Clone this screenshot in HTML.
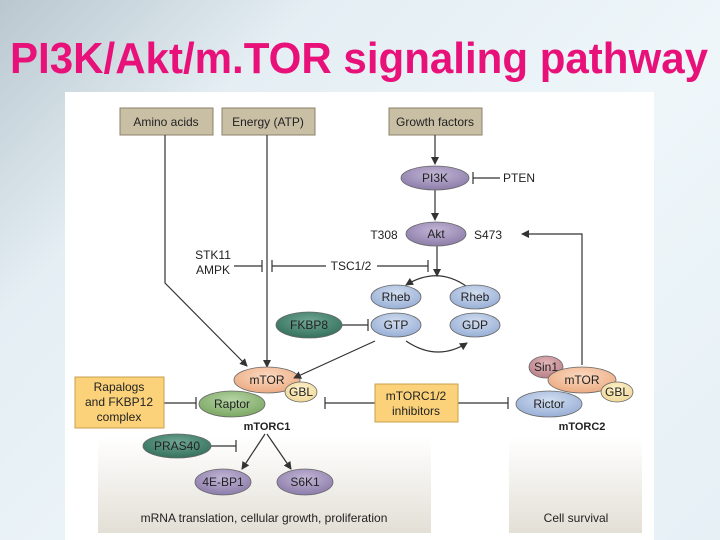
<!DOCTYPE html>
<html><head><meta charset="utf-8"><style>
html,body{margin:0;padding:0;width:720px;height:540px;overflow:hidden}
body{background:linear-gradient(135deg,#b9c7cf 0%,#e4eef3 25%,#eef6fa 60%,#e6f0f5 100%)}
svg{position:absolute;left:0;top:0}
text{font-family:"Liberation Sans",sans-serif}
</style></head><body>
<svg width="720" height="540" viewBox="0 0 720 540" xmlns="http://www.w3.org/2000/svg">
<defs>
<marker id="ah" markerWidth="8" markerHeight="8" refX="7" refY="4" orient="auto" markerUnits="userSpaceOnUse"><path d="M0,0 L8,4 L0,8 z" fill="#333"/></marker>
<linearGradient id="pan" x1="0" y1="0" x2="0" y2="1"><stop offset="0" stop-color="#fff"/><stop offset="1" stop-color="#e3dfd6"/></linearGradient>
<radialGradient id="pu" cx="0.5" cy="0.35" r="0.7"><stop offset="0" stop-color="#c2b6d6"/><stop offset="1" stop-color="#8878a6"/></radialGradient>
<radialGradient id="bl" cx="0.5" cy="0.35" r="0.7"><stop offset="0" stop-color="#d2def0"/><stop offset="1" stop-color="#93abd4"/></radialGradient>
<radialGradient id="tl" cx="0.5" cy="0.35" r="0.7"><stop offset="0" stop-color="#6fa794"/><stop offset="1" stop-color="#2f6c58"/></radialGradient>
<radialGradient id="or" cx="0.5" cy="0.35" r="0.7"><stop offset="0" stop-color="#fbd9c0"/><stop offset="1" stop-color="#eaa87e"/></radialGradient>
<radialGradient id="gr" cx="0.5" cy="0.35" r="0.7"><stop offset="0" stop-color="#b6d4a4"/><stop offset="1" stop-color="#76a45e"/></radialGradient>
<radialGradient id="ye" cx="0.5" cy="0.35" r="0.7"><stop offset="0" stop-color="#fdf2cc"/><stop offset="1" stop-color="#efd696"/></radialGradient>
<radialGradient id="pk" cx="0.5" cy="0.35" r="0.7"><stop offset="0" stop-color="#e4b8bc"/><stop offset="1" stop-color="#b57a82"/></radialGradient>
</defs>
<text x="10" y="73" font-size="44" font-weight="bold" fill="#e8117a" textLength="698" lengthAdjust="spacingAndGlyphs">PI3K/Akt/m.TOR signaling pathway</text>
<rect x="65" y="92" width="589" height="448" fill="#fff"/>
<rect x="98" y="437" width="333" height="96" fill="url(#pan)"/>
<rect x="509" y="437" width="133" height="96" fill="url(#pan)"/>
<g font-size="12" fill="#222" text-anchor="middle">
<text x="264" y="522">mRNA translation, cellular growth, proliferation</text>
<text x="576" y="522">Cell survival</text>
</g>
<g fill="#c9bfa5" stroke="#8c826a" stroke-width="1">
<rect x="120" y="108" width="93" height="27"/><rect x="222" y="108" width="93" height="27"/><rect x="389" y="108" width="93" height="27"/>
</g>
<g font-size="12" fill="#222" text-anchor="middle">
<text x="166" y="126">Amino acids</text><text x="268" y="126">Energy (ATP)</text><text x="435" y="126">Growth factors</text>
</g>
<g stroke="#333" stroke-width="1.2" fill="none">
<line x1="435" y1="135" x2="435" y2="164" marker-end="url(#ah)"/>
<line x1="435" y1="190" x2="435" y2="220" marker-end="url(#ah)"/>
<line x1="437" y1="246" x2="437" y2="276" marker-end="url(#ah)"/>
<line x1="500" y1="178" x2="473" y2="178"/><line x1="473" y1="172" x2="473" y2="184"/>
<line x1="234" y1="266" x2="262" y2="266"/><line x1="262" y1="260" x2="262" y2="272"/>
<line x1="272" y1="266" x2="326" y2="266"/><line x1="377" y1="266" x2="428" y2="266"/>
<line x1="272" y1="260" x2="272" y2="272"/><line x1="428" y1="260" x2="428" y2="272"/>
<line x1="267" y1="135" x2="267" y2="367" marker-end="url(#ah)"/>
<polyline points="165,135 165,283 247,366" marker-end="url(#ah)"/>
<path d="M466,286 Q437,266 406,285" marker-end="url(#ah)"/>
<path d="M406,341 Q437,362 467,343" marker-end="url(#ah)"/>
<line x1="341" y1="325" x2="368" y2="325"/><line x1="368" y1="319" x2="368" y2="331"/>
<polyline points="582,365 582,234 522,234" marker-end="url(#ah)"/>
<line x1="164" y1="403" x2="196" y2="403"/><line x1="196" y1="397" x2="196" y2="409"/>
<line x1="375" y1="403" x2="325" y2="403"/><line x1="325" y1="397" x2="325" y2="409"/>
<line x1="458" y1="403" x2="508" y2="403"/><line x1="508" y1="397" x2="508" y2="409"/>
<line x1="211" y1="446" x2="236" y2="446"/><line x1="236" y1="440" x2="236" y2="452"/>
<line x1="265" y1="434" x2="242" y2="469" marker-end="url(#ah)"/>
<line x1="267" y1="434" x2="291" y2="469" marker-end="url(#ah)"/>
</g>
<g font-size="12" fill="#222" text-anchor="middle">
<text x="519" y="182">PTEN</text>
<text x="384" y="239">T308</text><text x="488" y="239">S473</text>
<text x="213" y="259">STK11</text><text x="213" y="274">AMPK</text>
<text x="351" y="270">TSC1/2</text>
</g>
<g stroke="#666" stroke-width="0.8">
<ellipse cx="435" cy="178" rx="34" ry="12" fill="url(#pu)"/>
<ellipse cx="436" cy="234" rx="30" ry="12" fill="url(#pu)"/>
<ellipse cx="396" cy="297" rx="25" ry="12" fill="url(#bl)"/>
<ellipse cx="396" cy="325" rx="25" ry="12" fill="url(#bl)"/>
<ellipse cx="475" cy="297" rx="25" ry="12" fill="url(#bl)"/>
<ellipse cx="475" cy="325" rx="25" ry="12" fill="url(#bl)"/>
<ellipse cx="309" cy="325" rx="33" ry="13" fill="url(#tl)"/>
<ellipse cx="267" cy="380" rx="33" ry="13" fill="url(#or)"/>
<ellipse cx="232" cy="404" rx="33" ry="13" fill="url(#gr)"/>
<ellipse cx="301" cy="392" rx="16" ry="10" fill="url(#ye)"/>
<ellipse cx="546" cy="367" rx="17" ry="11" fill="url(#pk)"/>
<ellipse cx="582" cy="380" rx="34" ry="13" fill="url(#or)"/>
<ellipse cx="549" cy="404" rx="33" ry="13" fill="url(#bl)"/>
<ellipse cx="617" cy="392" rx="16" ry="10" fill="url(#ye)"/>
<ellipse cx="177" cy="446" rx="34" ry="12" fill="url(#tl)"/>
<ellipse cx="223" cy="482" rx="28" ry="13" fill="url(#pu)"/>
<ellipse cx="305" cy="482" rx="28" ry="13" fill="url(#pu)"/>
</g>
<line x1="375" y1="341" x2="294" y2="378" stroke="#333" stroke-width="1.2" marker-end="url(#ah)"/>
<g font-size="12" fill="#222" text-anchor="middle">
<text x="435" y="182">PI3K</text><text x="436" y="238">Akt</text>
<text x="396" y="301">Rheb</text><text x="396" y="329">GTP</text>
<text x="475" y="301">Rheb</text><text x="475" y="329">GDP</text>
<text x="309" y="329">FKBP8</text>
<text x="267" y="384">mTOR</text><text x="232" y="408">Raptor</text><text x="301" y="396">GBL</text>
<text x="546" y="371">Sin1</text><text x="582" y="384">mTOR</text><text x="549" y="408">Rictor</text><text x="617" y="396">GBL</text>
<text x="177" y="450">PRAS40</text><text x="223" y="486">4E-BP1</text><text x="305" y="486">S6K1</text>
<text x="267" y="430" font-weight="bold" font-size="11">mTORC1</text>
<text x="582" y="430" font-weight="bold" font-size="11">mTORC2</text>
</g>
<rect x="75" y="377" width="89" height="51" fill="#fbd27a" stroke="#c9a04c"/>
<rect x="375" y="384" width="83" height="38" fill="#fbd27a" stroke="#c9a04c"/>
<g font-size="12" fill="#222" text-anchor="middle">
<text x="119" y="391">Rapalogs</text><text x="119" y="406">and FKBP12</text><text x="119" y="421">complex</text>
<text x="416" y="400">mTORC1/2</text><text x="416" y="415">inhibitors</text>
</g>
</svg>
</body></html>
